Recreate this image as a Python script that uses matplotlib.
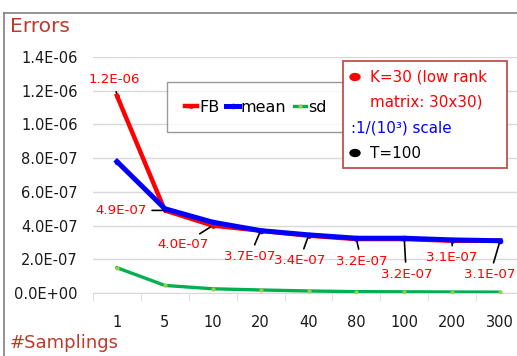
import matplotlib
matplotlib.use("Agg")
import matplotlib.pyplot as plt
from matplotlib.patches import Rectangle, Circle
from matplotlib.lines import Line2D

categories = ["1", "5", "10", "20", "40", "80", "100", "200", "300"]
fb = [1.17e-6, 4.9e-7, 4.0e-7, 3.7e-7, 3.4e-7, 3.2e-7, 3.2e-7, 3.1e-7, 3.1e-7]
mean = [7.8e-7, 5.0e-7, 4.2e-7, 3.7e-7, 3.45e-7, 3.25e-7, 3.25e-7, 3.15e-7, 3.1e-7]
sd = [1.5e-7, 4.5e-8, 2.5e-8, 1.8e-8, 1.2e-8, 8e-9, 7e-9, 6e-9, 5e-9]
fb_labels = ["1.2E-06", "4.9E-07", "4.0E-07", "3.7E-07", "3.4E-07",
             "3.2E-07", "3.2E-07", "3.1E-07", "3.1E-07"]
yticks = [0, 2e-7, 4e-7, 6e-7, 8e-7, 1.0e-6, 1.2e-6, 1.4e-6]
ytick_labels = ["0.0E+00", "2.0E-07", "4.0E-07", "6.0E-07", "8.0E-07",
                "1.0E-06", "1.2E-06", "1.4E-06"]

plt.rcParams['font.family'] = ['DejaVu Sans']

W, H = 517, 356
fig = plt.figure(figsize=(W / 100, H / 100), dpi=100)

def fx(px):
    return px / W

def fy(py):
    return 1 - py / H

# axes: x from 93 to 524 px, y from 57 to 293 px
ax = fig.add_axes([fx(93), fy(293), (524 - 93) / W, (293 - 57) / H])
x = list(range(len(categories)))

ax.plot(x, sd, color="#00B050", lw=2.4, marker='o', ms=2, mfc="#92D050", mec="#92D050", zorder=3, label="sd")
ax.plot(x, fb, color="#FF0000", lw=3.2, marker='o', ms=2.5, zorder=4, label="FB")
ax.plot(x, mean, color="#0000FF", lw=3.6, marker='o', ms=3, zorder=5, label="mean")

ax.set_xlim(-0.5, len(categories) - 0.5)
ax.set_ylim(0, 1.4e-6)
ax.set_yticks(yticks)
ax.set_yticklabels(ytick_labels, fontsize=10.5, color="#1a1a1a")
ax.set_xticks(x)
ax.set_xticklabels(categories, fontsize=10.5, color="#1a1a1a")
ax.tick_params(axis='y', length=0, pad=11)
ax.tick_params(axis='x', length=0, pad=16)
ax.set_xticks([i - 0.5 for i in range(len(categories) + 1)], minor=True)
ax.tick_params(axis='x', which='minor', length=6, color="#D9D9D9", direction='out')
for s in ["top", "right", "left"]:
    ax.spines[s].set_visible(False)
ax.spines["bottom"].set_color("#D9D9D9")
ax.grid(axis='y', color="#D9D9D9", lw=1)
ax.set_axisbelow(True)

# data labels with leader lines
offsets = [(-3, 16), (-44, 0), (-30, -19), (-11, -26), (-9, -25),
           (5, -22), (2, -35), (0, -17), (-10, -34)]
for i, (v, lab, off) in enumerate(zip(fb, fb_labels, offsets)):
    ax.annotate(lab, xy=(i, v), xytext=off, textcoords='offset pixels',
                ha='center', va='center', color="#FF0000", fontsize=9.6,
                annotation_clip=False, zorder=6,
                arrowprops=dict(arrowstyle='-', color='black', lw=1.2,
                                shrinkA=2, shrinkB=2))

# legend
leg = fig.legend(handles=[ax.lines[1], ax.lines[2], ax.lines[0]],
                 labels=["FB", "mean", "sd"], loc='upper left',
                 bbox_to_anchor=(fx(167), fy(82)), ncol=3, fontsize=11.5,
                 frameon=True, fancybox=False, handlelength=0.8,
                 handletextpad=0.1, columnspacing=0.45, borderpad=1.1,
                 borderaxespad=0)
leg.get_frame().set_edgecolor("#808080")
leg.get_frame().set_linewidth(1)

# annotation box
fig.patches.append(Rectangle((fx(343), fy(168)), (507 - 343) / W, (168 - 61) / H,
                             transform=fig.transFigure, fill=True, fc='white',
                             ec="#C0504D", lw=1.3, zorder=7))
fig.patches.append(Circle((fx(355), fy(77)), 5 / W, transform=fig.transFigure,
                          color="#FF0000", zorder=8))
fig.patches.append(Circle((fx(355), fy(153)), 5 / W, transform=fig.transFigure,
                          color="black", zorder=8))
fig.text(fx(370), fy(77), "K=30 (low rank", color="#FF0000", fontsize=10.9,
         va='center', ha='left', zorder=9)
fig.text(fx(370), fy(102), "matrix: 30x30)", color="#FF0000", fontsize=10.9,
         va='center', ha='left', zorder=9)
fig.text(fx(351), fy(128), ":1/(10³) scale", color="#0000FF", fontsize=10.9,
         va='center', ha='left', zorder=9)
fig.text(fx(370), fy(153), "T=100", color="black", fontsize=10.9,
         va='center', ha='left', zorder=9)

# titles
fig.text(fx(10), fy(27), "Errors", color="#C0392B", fontsize=14.5, va='center', ha='left')
fig.text(fx(10), fy(343), "#Samplings", color="#C0392B", fontsize=13, va='center', ha='left')

# chart border
fig.lines.append(Line2D([fx(4), fx(4)], [fy(13), 0], transform=fig.transFigure, color="#808080", lw=1.2))
fig.lines.append(Line2D([fx(4), 1], [fy(13), fy(13)], transform=fig.transFigure, color="#808080", lw=1.2))

fig.savefig("out.png", dpi=100)
